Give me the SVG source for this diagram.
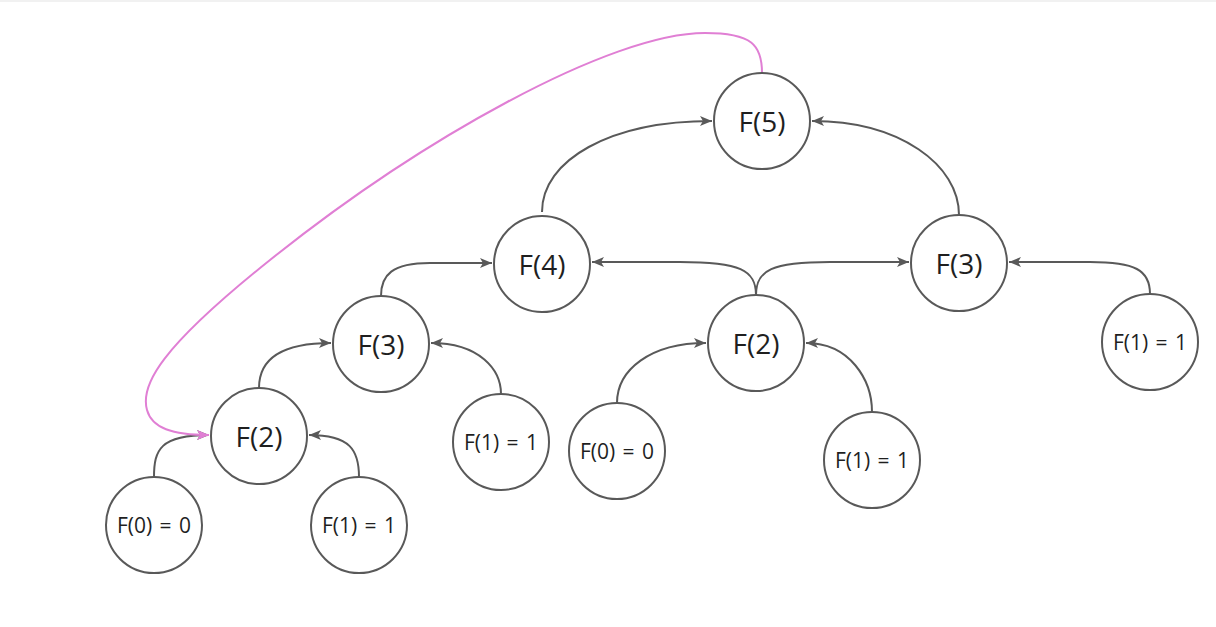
<svg xmlns="http://www.w3.org/2000/svg" width="1216" height="627" viewBox="0 0 1216 627">
<style>
.n{fill:#fff;stroke:#595959;stroke-width:2}
.t{font-family:"Open Sans","Noto Sans",sans-serif;fill:#1f1f1f;text-anchor:middle;dominant-baseline:central}
.b{font-size:28px}
.s{font-size:21px;word-spacing:2px}
.e{fill:none;stroke:#595959;stroke-width:2}
.p{fill:none;stroke:#e07fd4;stroke-width:2}
</style>
<defs>
<marker id="a" markerUnits="userSpaceOnUse" markerWidth="14" markerHeight="12" refX="12" refY="5" orient="auto"><path d="M0 0 L12 5 L0 10 L3 5 Z" fill="#595959"/></marker>
<marker id="ap" markerUnits="userSpaceOnUse" markerWidth="14" markerHeight="12" refX="12" refY="5" orient="auto"><path d="M0 0 L12 5 L0 10 L3 5 Z" fill="#e07fd4"/></marker>
</defs>
<rect x="0" y="0" width="1216" height="627" fill="#fff"/>
<line x1="0" y1="1" x2="1216" y2="1" stroke="#ececec" stroke-width="1.5"/>
<g id="edges">
<path class="e" marker-end="url(#a)" d="M542 212 C542 160 610 121 712 121"/>
<path class="e" marker-end="url(#a)" d="M959 215 C959 165 900 121 812 121"/>
<path class="e" marker-end="url(#a)" d="M381 296 C381 275 392 263 430 263 L492 263"/>
<path class="e" marker-end="url(#a)" d="M756 295 C756 270 740 262 680 262 L592 262"/>
<path class="e" marker-end="url(#a)" d="M756 295 C756 270 772 262 830 262 L909 262"/>
<path class="e" marker-end="url(#a)" d="M1150 294 C1150 270 1135 262 1090 262 L1009 262"/>
<path class="e" marker-end="url(#a)" d="M259 388 C259 360 280 343 331 343"/>
<path class="e" marker-end="url(#a)" d="M501 394 C501 370 480 343 431 343"/>
<path class="e" marker-end="url(#a)" d="M617 403 C617 370 650 343 706 343"/>
<path class="e" marker-end="url(#a)" d="M872 412 C872 380 850 343 806 343"/>
<path class="e" marker-end="url(#a)" d="M154 477 C154 450 160 435 209 435"/>
<path class="e" marker-end="url(#a)" d="M359 477 C359 450 350 435 309 435"/>
<path class="p" marker-end="url(#ap)" d="M762 73 C762 45 752 33 705 33 C610 33 420 140 270 260 C160 348 140 385 147 410 C152 428 172 435 209 435"/>
</g>
<g id="f5"><circle class="n" cx="762" cy="121" r="48"/><text class="t b" x="762" y="121">F(5)</text></g>
<g id="f4"><circle class="n" cx="542" cy="264" r="48"/><text class="t b" x="542" y="264">F(4)</text></g>
<g id="f3r"><circle class="n" cx="959" cy="263" r="48"/><text class="t b" x="959" y="263">F(3)</text></g>
<g id="f3l"><circle class="n" cx="381" cy="344" r="48"/><text class="t b" x="381" y="344">F(3)</text></g>
<g id="f2m"><circle class="n" cx="756" cy="343" r="48"/><text class="t b" x="756" y="343">F(2)</text></g>
<g id="f1r"><circle class="n" cx="1150" cy="342" r="48"/><text class="t s" x="1150" y="342">F(1) = 1</text></g>
<g id="f2l"><circle class="n" cx="259" cy="436" r="48"/><text class="t b" x="259" y="436">F(2)</text></g>
<g id="f1a"><circle class="n" cx="501" cy="442" r="48"/><text class="t s" x="501" y="442">F(1) = 1</text></g>
<g id="f0m"><circle class="n" cx="617" cy="451" r="48"/><text class="t s" x="617" y="451">F(0) = 0</text></g>
<g id="f1m"><circle class="n" cx="872" cy="460" r="48"/><text class="t s" x="872" y="460">F(1) = 1</text></g>
<g id="f0l"><circle class="n" cx="154" cy="525" r="48"/><text class="t s" x="154" y="525">F(0) = 0</text></g>
<g id="f1l"><circle class="n" cx="359" cy="525" r="48"/><text class="t s" x="359" y="525">F(1) = 1</text></g>
</svg>
